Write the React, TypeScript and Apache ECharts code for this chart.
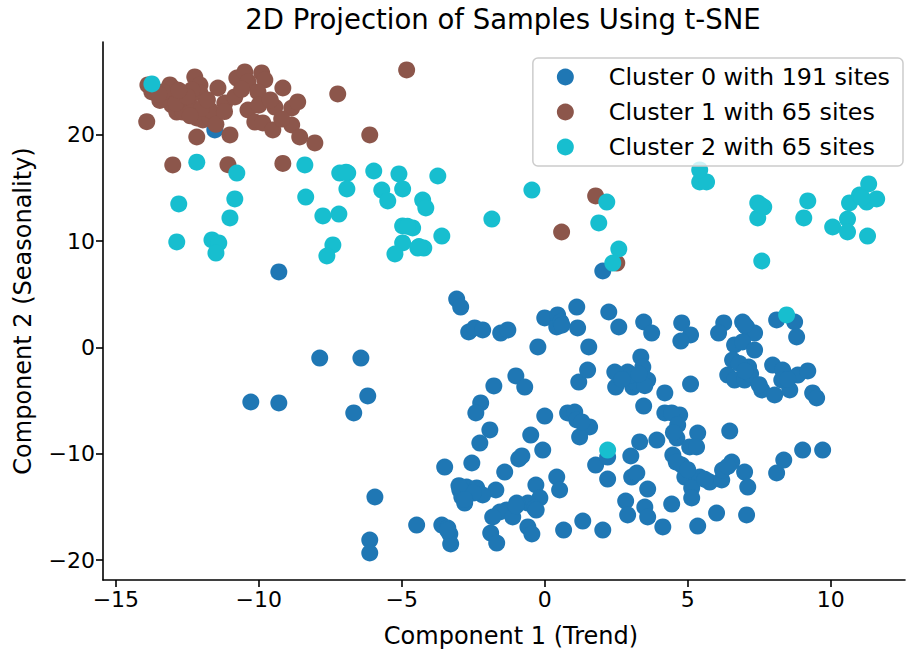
import React, { useEffect, useRef } from "react";
import * as echarts from "echarts";

// ---- data ----
const cluster0: [number, number][] = [
  [-11.54, 20.47], [-9.3, 7.11], [2.03, 7.2], [-7.87, -0.99], [-6.43, -0.99], [-10.28, -5.13], [-9.3, -5.22], [-6.19, -4.56], [-6.68, -6.16],
  [-3.08, 4.56], [-2.94, 3.81], [-2.66, 1.46], [-2.45, 1.84], [-2.17, 1.65], [-1.54, 1.36], [-1.29, 1.65], [-0.24, 0.05], [0.0, 2.78], [0.45, 3.06],
  [0.42, 1.93], [0.56, 2.4], [1.12, 3.81], [1.15, 1.84], [-1.01, -2.68], [-0.7, -3.72], [-1.78, -3.62], [-2.24, -5.22], [-2.41, -6.16], [0.0, -6.45],
  [0.8, -6.16], [1.19, -3.25],
  [2.24, 3.34], [2.59, 1.93], [3.46, 2.4], [3.74, 1.36], [4.79, 2.31], [5.1, 1.18], [4.76, 0.61], [1.54, 0.05], [1.5, -2.12], [3.36, -0.89],
  [3.43, -1.84], [2.45, -2.31], [2.9, -2.31], [3.22, -2.78], [3.6, -3.06], [3.08, -3.72], [2.48, -3.72], [4.2, -4.28], [5.1, -3.44], [3.46, -5.51],
  [4.2, -6.16], [4.72, -6.35], [4.44, -6.16], [1.05, -6.07], [3.22, -3.34],
  [6.26, 2.31], [6.08, 1.36], [6.92, 2.4], [7.06, 1.93], [7.34, 1.36], [8.11, 2.59], [8.74, 2.4], [8.81, 0.99], [6.64, 0.24], [6.92, 0.52],
  [7.34, -0.24], [6.57, -1.18], [7.13, -1.84], [6.4, -2.59], [6.64, -3.06], [6.99, -3.06], [7.97, -1.65], [8.32, -2.12], [8.29, -3.06], [8.85, -2.59],
  [9.2, -2.21], [7.59, -4.0], [8.04, -4.47], [8.57, -4.0], [9.37, -4.28], [9.51, -4.75],
  [-2.27, -8.99], [-3.5, -11.25], [-2.55, -10.87], [-2.97, -13.41], [-2.73, -13.13], [-2.38, -13.22], [-2.9, -14.07], [-2.8, -14.64], [-5.94, -14.07],
  [-4.48, -16.71], [-3.6, -16.71], [-3.39, -16.99], [-3.32, -17.55], [-3.29, -18.49], [-6.12, -18.12], [-6.12, -19.34],
  [-1.92, -7.76], [-1.71, -13.41], [-2.17, -13.88], [-1.4, -11.72], [-0.91, -10.49], [-0.49, -8.24], [-0.07, -9.65], [1.12, -6.82], [1.57, -7.48],
  [1.22, -8.42], [0.42, -12.19], [0.52, -13.41], [-0.31, -12.94], [-0.17, -14.16], [-0.59, -14.64], [-0.98, -14.64], [-1.33, -15.29], [-1.57, -15.48],
  [-1.82, -15.95], [-1.12, -15.95], [-0.35, -15.11], [-1.89, -17.46], [-1.68, -18.4], [-0.59, -16.89], [-0.45, -17.55], [0.66, -17.18], [1.33, -16.33],
  [2.03, -17.18], [1.78, -11.06], [2.2, -10.31], [2.2, -12.38], [3.01, -10.21], [3.04, -12.19], [3.22, -11.81], [2.83, -14.45], [2.9, -15.76], [3.32, -8.89],
  [4.65, -7.29], [5.35, -8.05], [6.47, -7.86], [3.92, -8.71], [4.62, -8.52], [5.07, -9.36], [5.31, -9.36], [4.48, -10.12], [4.79, -11.06], [4.9, -12.19],
  [5.42, -12.19], [5.77, -12.66], [6.19, -12.47], [6.22, -11.53], [6.54, -10.78], [6.99, -11.72], [7.1, -13.13], [5.14, -13.22], [5.14, -14.16],
  [3.6, -13.32], [3.5, -15.01], [3.6, -15.95], [4.44, -14.73], [4.13, -16.89], [5.35, -16.8], [6.01, -15.58], [7.06, -15.76], [8.11, -11.81],
  [8.36, -10.59], [9.02, -9.65], [9.72, -9.65],
  [7.2, -2.5], [6.8, -1.5], [7.5, -3.5], [3.0, -2.6], [3.5, -3.6], [2.7, -3.0], [4.6, -10.8], [5.0, -11.5], [-0.3, -15.3], [-1.0, -14.9],
  [-2.5, -13.7], [-3.0, -13.0], [0.6, 2.1], [7.0, 2.1], [8.5, -3.0], [-2.8, -14.3], [5.6, -12.4], [6.4, -11.2], [-0.8, -10.2], [3.3, -2.5],
  [7.0, -2.2], [1.3, -7.0], [-3.4, -17.2], [4.5, -8.0],
];

const cluster1: [number, number][] = [
  [-13.88, 24.71], [-13.74, 24.05], [-13.92, 21.25], [-13.11, 24.71], [-13.01, 24.42], [-13.22, 23.48], [-13.04, 22.82], [-12.87, 22.16],
  [-12.66, 22.16], [-12.41, 22.82], [-12.24, 25.46], [-12.06, 24.71], [-12.06, 23.95], [-12.34, 24.24], [-12.17, 21.6], [-11.96, 21.41],
  [-11.71, 21.6], [-12.17, 19.81], [-11.43, 24.42], [-11.19, 23.01], [-10.84, 23.58], [-10.77, 25.36], [-10.49, 25.93], [-10.38, 24.99],
  [-9.9, 25.84], [-9.79, 25.18], [-10.03, 24.05], [-10.38, 22.35], [-10.14, 21.22], [-9.86, 21.13], [-9.51, 20.47], [-9.44, 22.63],
  [-9.16, 24.42], [-8.85, 22.54], [-8.64, 23.11], [-8.85, 20.94], [-8.57, 19.81], [-8.04, 19.25], [-11.01, 20.0], [-13.01, 17.18],
  [-11.08, 17.2], [-9.16, 17.32], [-11.71, 22.35], [-12.76, 23.34], [-13.46, 23.25], [-13.36, 24.05], [-7.24, 23.86], [-6.12, 20.0],
  [-4.83, 26.12], [1.78, 14.26], [0.59, 10.87], [2.52, 7.95],
  [-13.5, 23.8], [-12.9, 23.0], [-12.5, 23.6], [-12.0, 22.5], [-11.8, 23.3], [-12.4, 21.8], [-11.5, 21.0], [-10.6, 24.3], [-10.0, 22.8],
  [-9.6, 23.3], [-9.2, 21.5], [-12.8, 24.2], [-11.2, 22.2],
];

const cluster2: [number, number][] = [
  [-13.74, 24.8], [-12.17, 17.44], [-10.77, 16.42], [-8.39, 17.18], [-12.8, 13.51], [-10.84, 13.98], [-8.36, 14.16], [-11.01, 12.19],
  [-12.87, 9.93], [-11.64, 10.12], [-11.4, 9.84], [-11.5, 8.89], [-7.17, 16.42], [-6.89, 16.42], [-5.98, 16.61], [-5.1, 16.33],
  [-3.74, 16.14], [-6.92, 14.92], [-5.7, 14.82], [-5.49, 13.79], [-4.97, 14.92], [-4.27, 13.88], [-4.16, 13.13], [-7.76, 12.38],
  [-7.2, 12.56], [-4.97, 11.44], [-4.62, 11.25], [-3.6, 10.49], [-7.41, 9.65], [-7.62, 8.61], [-4.97, 9.84], [-5.24, 8.8],
  [-4.44, 9.36], [-4.23, 9.36], [-0.45, 14.82], [-1.85, 12.09], [2.17, 13.69], [1.89, 11.72], [2.59, 9.27], [2.38, 7.95],
  [5.42, 15.58], [5.66, 15.58], [5.42, 16.71], [7.45, 13.6], [7.66, 13.22], [7.45, 12.19], [9.2, 13.79], [9.06, 12.19],
  [10.07, 11.34], [10.59, 12.09], [10.59, 10.87], [10.66, 13.6], [11.01, 14.35], [11.33, 15.39], [11.26, 13.69], [11.61, 13.98],
  [11.29, 10.49], [7.59, 8.14], [8.46, 3.06], [2.2, -9.65],
  [-6.95, 16.5], [-4.8, 11.4], [-4.4, 9.5], [11.1, 14.1], [7.55, 13.4],
];

const seriesNames = ["Cluster 0 with 191 sites", "Cluster 1 with 65 sites", "Cluster 2 with 65 sites"];
const seriesColors = ["#1f77b4", "#8c564b", "#17becf"];
const xTicks = [-15, -10, -5, 0, 5, 10];
const yTicks = [-20, -10, 0, 10, 20];

const titleText = "2D Projection of Samples Using t-SNE";
const xName = "Component 1 (Trend)";
const yName = "Component 2 (Seasonality)";

const FONT = "DejaVu Sans";
const fmt = (v: number) => (v < 0 ? "\u2212" + Math.abs(v) : String(v));

export default function App() {
  const ref = useRef<HTMLDivElement>(null);
  useEffect(() => {
    if (!ref.current) return;
    const chart = echarts.init(ref.current, null, { renderer: "svg" });
    const datasets = [cluster0, cluster1, cluster2];
    chart.setOption({
      animation: false,
      backgroundColor: "#ffffff",
      textStyle: { fontFamily: FONT },
      title: {
        text: titleText,
        left: 503,
        top: 5,
        textAlign: "center",
        padding: 0,
        textStyle: { fontFamily: FONT, fontSize: 27.5, fontWeight: "normal", color: "#000" },
      },
      legend: {
        orient: "vertical",
        right: 3,
        top: 58,
        padding: [7, 13, 7, 24],
        itemWidth: 17,
        itemHeight: 17,
        itemGap: 11,
        icon: "circle",
        backgroundColor: "rgba(255,255,255,0.8)",
        borderColor: "#cccccc",
        borderWidth: 1.5,
        borderRadius: 5,
        textStyle: { fontFamily: FONT, fontSize: 23.8, lineHeight: 24, color: "#000", padding: [0, 0, 0, 30] },
        data: seriesNames,
      },
      grid: { left: 103, top: 42, width: 802, height: 538, containLabel: false },
      xAxis: {
        type: "value",
        min: -15.45,
        max: 12.6,
        name: xName,
        nameLocation: "middle",
        nameGap: 44,
        nameTextStyle: { fontFamily: FONT, fontSize: 24, color: "#000", verticalAlign: "top", padding: [0, 0, 0, 14] },
        axisLine: { show: true, onZero: false, lineStyle: { color: "#000", width: 1.6 } },
        axisTick: { show: true, length: 7, lineStyle: { color: "#000", width: 1.6 }, customValues: xTicks },
        axisLabel: { fontFamily: FONT, fontSize: 22, color: "#000", margin: 8, customValues: xTicks, formatter: fmt },
        splitLine: { show: false },
      },
      yAxis: {
        type: "value",
        min: -21.88,
        max: 28.75,
        name: yName,
        nameLocation: "middle",
        nameGap: 68,
        nameTextStyle: { fontFamily: FONT, fontSize: 24, color: "#000" },
        axisLine: { show: true, onZero: false, lineStyle: { color: "#000", width: 1.6 } },
        axisTick: { show: true, length: 7, lineStyle: { color: "#000", width: 1.6 }, customValues: yTicks },
        axisLabel: { fontFamily: FONT, fontSize: 22, color: "#000", margin: 8, customValues: yTicks, formatter: fmt },
        splitLine: { show: false },
      },
      series: datasets.map((d, i) => ({
        name: seriesNames[i],
        type: "scatter",
        data: d,
        symbol: "circle",
        symbolSize: 17,
        itemStyle: { color: seriesColors[i], opacity: 1 },
        emphasis: { disabled: true },
      })),
    });
    return () => chart.dispose();
  }, []);
  return <div ref={ref} style={{ position: "absolute", left: 0, top: 0, width: 906, height: 653 }} />;
}
